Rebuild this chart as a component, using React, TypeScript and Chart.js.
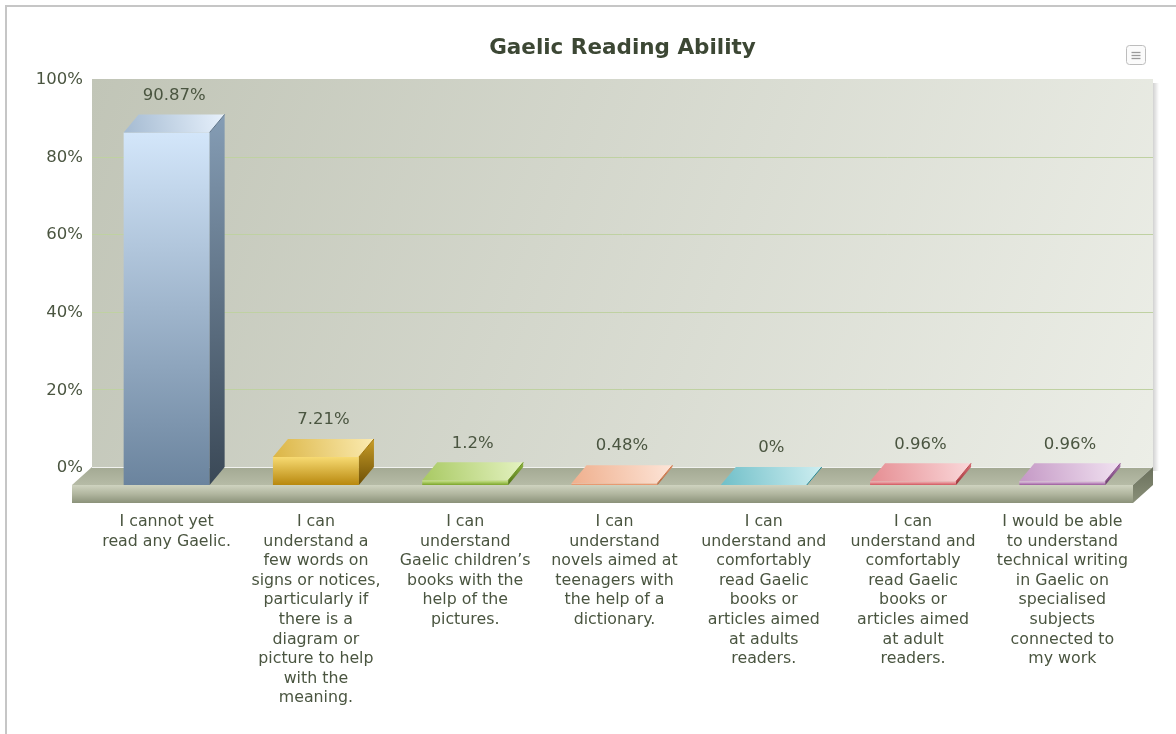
import React, { useEffect, useRef } from 'react';
import { Chart, registerables } from 'chart.js';

Chart.register(...registerables);

const chartTitle = 'Gaelic Reading Ability';

const categories: string[][] = [
  ['I cannot yet', 'read any Gaelic.'],
  ['I can', 'understand a', 'few words on', 'signs or notices,', 'particularly if', 'there is a', 'diagram or', 'picture to help', 'with the', 'meaning.'],
  ['I can', 'understand', 'Gaelic children\u2019s', 'books with the', 'help of the', 'pictures.'],
  ['I can', 'understand', 'novels aimed at', 'teenagers with', 'the help of a', 'dictionary.'],
  ['I can', 'understand and', 'comfortably', 'read Gaelic', 'books or', 'articles aimed', 'at adults', 'readers.'],
  ['I can', 'understand and', 'comfortably', 'read Gaelic', 'books or', 'articles aimed', 'at adult', 'readers.'],
  ['I would be able', 'to understand', 'technical writing', 'in Gaelic on', 'specialised', 'subjects', 'connected to', 'my work'],
];

const percentages: number[] = [90.87, 7.21, 1.2, 0.48, 0, 0.96, 0.96];
const valueLabels: string[] = ['90.87%', '7.21%', '1.2%', '0.48%', '0%', '0.96%', '0.96%'];
const yTicks: number[] = [0, 20, 40, 60, 80, 100];

const palette = [
  { light: '#d3e6fa', mid: '#6b849e', dark: '#3a4856' },
  { light: '#f7da72', mid: '#b8880e', dark: '#6e5006' },
  { light: '#cde78f', mid: '#7ba42a', dark: '#4f7212' },
  { light: '#fcd0b8', mid: '#e08658', dark: '#a85a32' },
  { light: '#a6e0e6', mid: '#2f96a3', dark: '#1a6a75' },
  { light: '#f6b8bc', mid: '#d0585f', dark: '#9c3238' },
  { light: '#e6cbe6', mid: '#9a5a9c', dark: '#6a3a6c' },
];

const FONT = "'DejaVu Sans', Verdana, sans-serif";
const TEXT = '#4a5540';
const DX = 15;
const DY = 18;
const FDX = 20;
const FLOOR_H = 18;

function hex(c: string): number[] {
  const h = c.replace('#', '');
  return [0, 2, 4].map((i) => parseInt(h.slice(i, i + 2), 16));
}
function mix(a: string, b: string, t: number): string {
  const A = hex(a);
  const B = hex(b);
  const r = A.map((v, i) => Math.round(v * (1 - t) + B[i] * t));
  return `rgb(${r[0]},${r[1]},${r[2]})`;
}
const ok = (...v: number[]) => v.every((n) => Number.isFinite(n));

const threeD = {
  id: 'threeD',
  beforeDraw(chart: any) {
    const { ctx, chartArea: a, scales } = chart;
    const ys = scales.y;
    const wl = a.left;
    const wr = a.right + 16;
    const wt = ys.getPixelForValue(100) - DY;
    const wb = ys.getPixelForValue(0) - DY;
    const fb = ys.getPixelForValue(0);
    if (!ok(wl, wr, wt, wb, fb)) return;
    ctx.save();

    // outer frame
    ctx.strokeStyle = '#c6c6c6';
    ctx.lineWidth = 2;
    ctx.strokeRect(6, 6, 1400, 1000);

    // wall shadow
    const sh = ctx.createLinearGradient(wr, 0, wr + 6, 0);
    sh.addColorStop(0, 'rgba(0,0,0,0.18)');
    sh.addColorStop(1, 'rgba(0,0,0,0)');
    ctx.fillStyle = sh;
    ctx.fillRect(wr, wt + 4, 6, wb - wt);

    // back wall
    const g = ctx.createLinearGradient(wl, wt, wr, wb);
    g.addColorStop(0, '#c1c5b7');
    g.addColorStop(1, '#eceee7');
    ctx.fillStyle = g;
    ctx.fillRect(wl, wt, wr - wl, wb - wt);

    // gridlines
    ctx.strokeStyle = '#bfd1a2';
    ctx.lineWidth = 1;
    for (const v of yTicks) {
      if (v <= 0 || v >= 100) continue;
      const py = Math.round(ys.getPixelForValue(v) - DY) + 0.5;
      ctx.beginPath();
      ctx.moveTo(wl, py);
      ctx.lineTo(wr, py);
      ctx.stroke();
    }

    // floor top
    const ft = ctx.createLinearGradient(0, wb, 0, fb);
    ft.addColorStop(0, '#a3a993');
    ft.addColorStop(1, '#b6bba6');
    ctx.fillStyle = ft;
    ctx.beginPath();
    ctx.moveTo(wl, wb);
    ctx.lineTo(wr, wb);
    ctx.lineTo(wr - FDX, fb);
    ctx.lineTo(wl - FDX, fb);
    ctx.closePath();
    ctx.fill();
    ctx.strokeStyle = 'rgba(255,255,255,0.85)';
    ctx.beginPath();
    ctx.moveTo(wl, wb + 0.5);
    ctx.lineTo(wr, wb + 0.5);
    ctx.stroke();

    // floor front
    const ff = ctx.createLinearGradient(0, fb, 0, fb + FLOOR_H);
    ff.addColorStop(0, '#cfd3c0');
    ff.addColorStop(0.5, '#b1b69f');
    ff.addColorStop(1, '#8b927a');
    ctx.fillStyle = ff;
    ctx.fillRect(wl - FDX, fb, wr - wl, FLOOR_H);

    // floor right side
    const fs = ctx.createLinearGradient(0, wb, 0, fb + FLOOR_H);
    fs.addColorStop(0, '#6a705c');
    fs.addColorStop(1, '#8a9079');
    ctx.fillStyle = fs;
    ctx.beginPath();
    ctx.moveTo(wr - FDX, fb);
    ctx.lineTo(wr, wb);
    ctx.lineTo(wr, wb + FLOOR_H);
    ctx.lineTo(wr - FDX, fb + FLOOR_H);
    ctx.closePath();
    ctx.fill();

    // title
    ctx.fillStyle = '#3c4734';
    ctx.font = `bold 21.5px ${FONT}`;
    ctx.textAlign = 'center';
    ctx.textBaseline = 'middle';
    ctx.fillText(chartTitle, (wl + wr) / 2, 48);

    // menu icon
    const ix = 1126.5, iy = 45.5, iw = 19, ih = 19;
    ctx.beginPath();
    if (ctx.roundRect) ctx.roundRect(ix, iy, iw, ih, 3);
    else ctx.rect(ix, iy, iw, ih);
    ctx.fillStyle = '#fbfbfb';
    ctx.fill();
    ctx.strokeStyle = '#bdbdbd';
    ctx.lineWidth = 1;
    ctx.stroke();
    ctx.strokeStyle = '#9a9a9a';
    ctx.lineWidth = 1.3;
    for (const ly of [52, 55, 58]) {
      ctx.beginPath();
      ctx.moveTo(ix + 5, ly + 0.5);
      ctx.lineTo(ix + iw - 5, ly + 0.5);
      ctx.stroke();
    }
    ctx.restore();
  },
  afterDatasetsDraw(chart: any) {
    const { ctx } = chart;
    const meta = chart.getDatasetMeta(0);
    ctx.save();
    meta.data.forEach((bar: any, i: number) => {
      const { x, y: top, base, width } = bar.getProps(['x', 'y', 'base', 'width'], true);
      if (!ok(x, top, base, width)) return;
      const p = palette[i];
      const xl = x - width / 2;
      const xr = x + width / 2;
      // side face
      if (base - top > 0.5) {
        const sg = ctx.createLinearGradient(0, top - DY, 0, base);
        sg.addColorStop(0, mix(p.light, p.mid, 0.75));
        sg.addColorStop(1, p.dark);
        ctx.fillStyle = sg;
        ctx.beginPath();
        ctx.moveTo(xr, top);
        ctx.lineTo(xr + DX, top - DY);
        ctx.lineTo(xr + DX, base - DY);
        ctx.lineTo(xr, base);
        ctx.closePath();
        ctx.fill();
      }
      // top face
      const tg = ctx.createLinearGradient(xl, top, xr + DX, top - DY);
      tg.addColorStop(0, mix(p.light, p.mid, 0.45));
      tg.addColorStop(1, mix(p.light, '#ffffff', 0.45));
      ctx.fillStyle = tg;
      ctx.beginPath();
      ctx.moveTo(xl, top);
      ctx.lineTo(xl + DX, top - DY);
      ctx.lineTo(xr + DX, top - DY);
      ctx.lineTo(xr, top);
      ctx.closePath();
      ctx.fill();
      ctx.strokeStyle = mix(p.mid, p.dark, 0.3);
      ctx.lineWidth = 1;
      ctx.beginPath();
      ctx.moveTo(xr, top);
      ctx.lineTo(xr + DX, top - DY);
      ctx.stroke();
      // value label
      ctx.fillStyle = TEXT;
      ctx.font = `16.5px ${FONT}`;
      ctx.textAlign = 'center';
      ctx.textBaseline = 'middle';
      ctx.fillText(valueLabels[i], x + DX / 2, top - DY - 19);
    });
    ctx.restore();
  },
};

export default function App() {
  const ref = useRef<HTMLCanvasElement | null>(null);
  useEffect(() => {
    if (!ref.current) return;
    const chart = new Chart(ref.current, {
      type: 'bar',
      data: {
        labels: categories,
        datasets: [
          {
            data: percentages,
            backgroundColor: (c: any) => {
              const i = c.dataIndex ?? 0;
              const p = palette[i] || palette[0];
              const ys = c.chart.scales && c.chart.scales.y;
              if (!ys) return p.mid;
              const top = ys.getPixelForValue(percentages[i]);
              const bot = ys.getPixelForValue(0);
              if (!ok(top, bot) || bot - top < 1) return p.mid;
              const g = c.chart.ctx.createLinearGradient(0, top, 0, bot);
              g.addColorStop(0, p.light);
              g.addColorStop(1, p.mid);
              return g;
            },
            borderWidth: 0,
            barPercentage: 0.576,
            categoryPercentage: 1,
          },
        ],
      },
      options: {
        responsive: false,
        animation: false,
        devicePixelRatio: 1,
        layout: { padding: { left: 12, right: 39, top: 97, bottom: 0 } },
        plugins: {
          legend: { display: false },
          tooltip: { enabled: false },
          title: { display: false },
        },
        scales: {
          x: {
            grid: { display: false, drawTicks: false },
            border: { display: false },
            ticks: {
              color: TEXT,
              font: { family: FONT, size: 15.8, lineHeight: '19.6px' },
              padding: 27,
              maxRotation: 0,
              minRotation: 0,
              autoSkip: false,
            },
            afterFit: (s: any) => {
              s.height = 249;
            },
          },
          y: {
            min: 0,
            max: 100,
            afterBuildTicks: (s: any) => {
              s.ticks = yTicks.map((v) => ({ value: v }));
            },
            grid: { display: false, drawTicks: false },
            border: { display: false },
            ticks: {
              color: TEXT,
              font: { family: FONT, size: 16.5 },
              padding: 9,
              labelOffset: -17,
              callback: (v: any) => `${v}%`,
            },
            afterFit: (s: any) => {
              s.width = 80;
            },
          },
        },
      },
      plugins: [threeD],
    } as any);
    return () => chart.destroy();
  }, []);
  return (
    <div style={{ position: 'fixed', left: 0, top: 0, width: 1176, height: 734, background: '#fff' }}>
      <canvas ref={ref} width={1176} height={734} style={{ display: 'block' }} />
    </div>
  );
}
